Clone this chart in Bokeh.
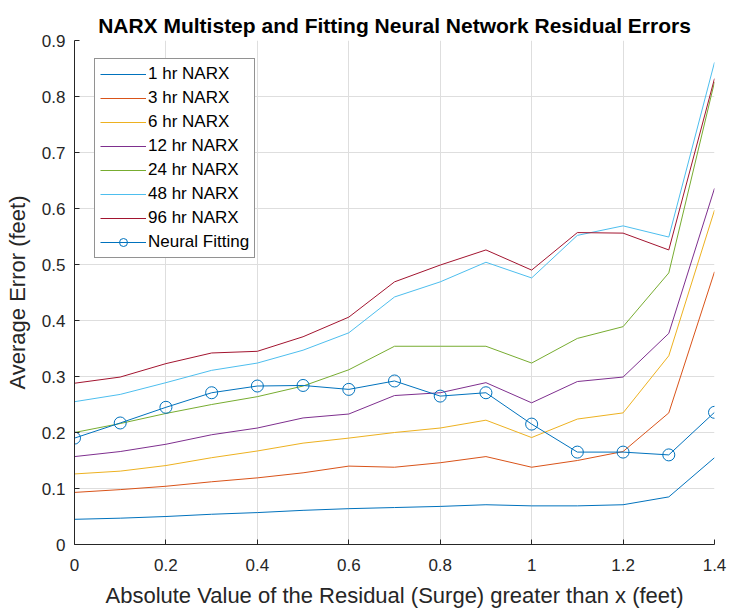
from bokeh.plotting import figure
from bokeh.models import Range1d, FixedTicker, Legend, LegendItem
from bokeh.embed import file_html
from bokeh.resources import INLINE

# ---- data ----
x = [0.0, 0.1, 0.2, 0.3, 0.4, 0.5, 0.6, 0.7, 0.8, 0.9, 1.0, 1.1, 1.2, 1.3, 1.4]

narx_1hr = [0.045, 0.047, 0.050, 0.054, 0.057, 0.061, 0.064, 0.066, 0.068, 0.071, 0.069, 0.069, 0.071, 0.085, 0.155]
narx_3hr = [0.093, 0.098, 0.104, 0.112, 0.119, 0.128, 0.140, 0.138, 0.146, 0.157, 0.138, 0.150, 0.166, 0.235, 0.487]
narx_6hr = [0.126, 0.131, 0.141, 0.155, 0.167, 0.181, 0.190, 0.200, 0.208, 0.222, 0.191, 0.224, 0.235, 0.337, 0.597]
narx_12hr = [0.157, 0.166, 0.179, 0.196, 0.208, 0.226, 0.233, 0.266, 0.271, 0.289, 0.253, 0.291, 0.299, 0.377, 0.636]
narx_24hr = [0.200, 0.216, 0.234, 0.250, 0.264, 0.283, 0.312, 0.354, 0.354, 0.354, 0.324, 0.368, 0.389, 0.485, 0.826]
narx_48hr = [0.255, 0.268, 0.289, 0.311, 0.324, 0.347, 0.378, 0.442, 0.469, 0.504, 0.476, 0.552, 0.569, 0.549, 0.861]
narx_96hr = [0.288, 0.299, 0.323, 0.342, 0.345, 0.371, 0.406, 0.469, 0.499, 0.526, 0.490, 0.557, 0.556, 0.526, 0.832]
neural_fitting = [0.190, 0.217, 0.245, 0.271, 0.283, 0.284, 0.277, 0.292, 0.265, 0.271, 0.215, 0.165, 0.165, 0.160, 0.236]

series_names = ["1 hr NARX", "3 hr NARX", "6 hr NARX", "12 hr NARX", "24 hr NARX", "48 hr NARX", "96 hr NARX"]
series_values = [narx_1hr, narx_3hr, narx_6hr, narx_12hr, narx_24hr, narx_48hr, narx_96hr]
series_colors = ["#0072BD", "#D95319", "#EDB120", "#7E2F8E", "#77AC30", "#4DBEEE", "#A2142F"]
fit_name = "Neural Fitting"
fit_color = "#0072BD"

x_ticks = [0, 0.2, 0.4, 0.6, 0.8, 1.0, 1.2, 1.4]
x_tick_labels = ["0", "0.2", "0.4", "0.6", "0.8", "1", "1.2", "1.4"]
y_ticks = [0, 0.1, 0.2, 0.3, 0.4, 0.5, 0.6, 0.7, 0.8, 0.9]
y_tick_labels = ["0", "0.1", "0.2", "0.3", "0.4", "0.5", "0.6", "0.7", "0.8", "0.9"]

FONT = "Liberation Sans"
AX = "#262626"

p = figure(width=729, height=612, output_backend="svg", toolbar_location=None,
           x_range=Range1d(0, 1.4), y_range=Range1d(0, 0.9),
           min_border_left=74, min_border_right=15, min_border_top=40, min_border_bottom=68,
           title="NARX Multistep and Fitting Neural Network Residual Errors")
p.outline_line_color = None
p.background_fill_color = "white"
p.border_fill_color = "white"

p.title.text_font = FONT
p.title.text_font_size = "21px"
p.title.text_font_style = "bold"
p.title.text_color = "#000000"
p.title.align = "center"
p.title.vertical_align = "middle"
p.title.standoff = 6

for ax, ticks, labels in ((p.xaxis[0], x_ticks, x_tick_labels), (p.yaxis[0], y_ticks, y_tick_labels)):
    ax.ticker = FixedTicker(ticks=ticks)
    ax.major_label_overrides = {t: l for t, l in zip(ticks, labels)}
    ax.major_tick_in = 5
    ax.major_tick_out = 0
    ax.minor_tick_line_color = None
    ax.axis_line_color = AX
    ax.major_tick_line_color = AX
    ax.major_label_text_font = FONT
    ax.major_label_text_font_size = "17px"
    ax.major_label_text_color = AX
    ax.axis_label_text_font = FONT
    ax.axis_label_text_font_size = "22px"
    ax.axis_label_text_font_style = "normal"
    ax.axis_label_text_color = AX

p.xaxis.axis_label = "Absolute Value of the Residual (Surge) greater than x (feet)"
p.yaxis.axis_label = "Average Error (feet)"
p.xaxis.major_label_standoff = 14
p.xaxis.axis_label_standoff = 9
p.yaxis.major_label_standoff = 9
p.yaxis.axis_label_standoff = 9

p.xgrid.ticker = FixedTicker(ticks=x_ticks)
p.ygrid.ticker = FixedTicker(ticks=y_ticks)
p.grid.grid_line_color = "#dedede"
p.grid.grid_line_width = 1

items = []
for name, vals, col in zip(series_names, series_values, series_colors):
    r = p.line(x, vals, line_color=col, line_width=1)
    items.append(LegendItem(label=name, renderers=[r]))
rl = p.line(x, neural_fitting, line_color=fit_color, line_width=1)
rs = p.scatter(x, neural_fitting, marker="circle", size=12, line_color=fit_color,
               fill_color=None, line_width=1)
items.append(LegendItem(label=fit_name, renderers=[rl, rs]))

legend = Legend(items=items, location=(20, 286))
legend.label_text_font = FONT
legend.label_text_font_size = "17px"
legend.label_text_color = "#000000"
legend.glyph_width = 46
legend.glyph_height = 20
legend.label_height = 20
legend.label_standoff = 2
legend.spacing = 4
legend.padding = 5
legend.margin = 0
legend.border_line_color = AX
legend.border_line_width = 1
legend.background_fill_color = "white"
legend.background_fill_alpha = 1
p.add_layout(legend, "center")

open("out.html", "w").write(file_html(p, INLINE))
